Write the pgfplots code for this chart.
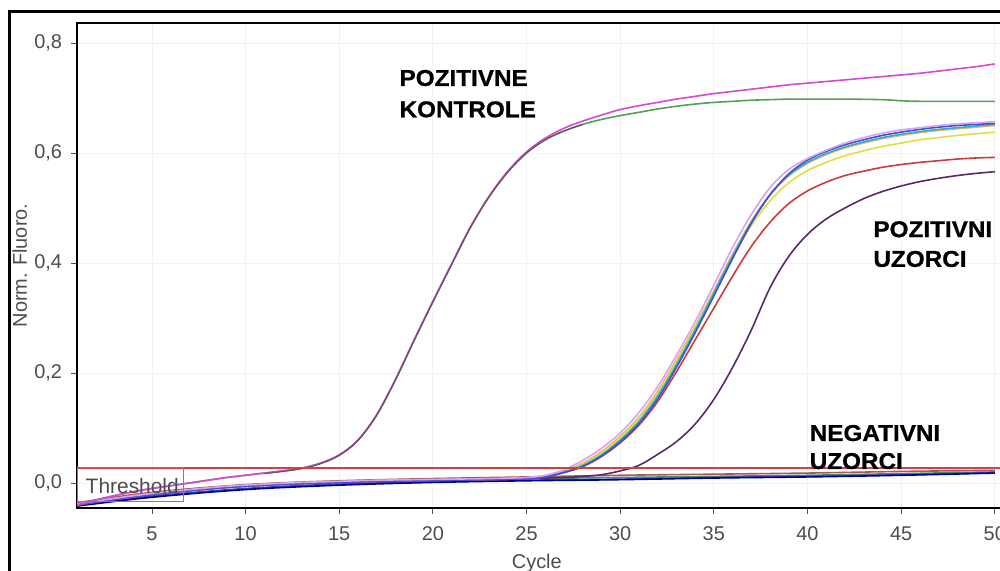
\documentclass[border=0pt]{standalone}
\usepackage{pgfplots}
\pgfplotsset{compat=1.18}
\usepackage{fontspec}
\setmainfont{Liberation Sans}
\newfontfamily\heavyfont{Liberation Sans Bold}[FakeBold=0.8]

\definecolor{ctlmag}{RGB}{214,72,214}
\definecolor{ctlgreen}{RGB}{84,160,84}
\definecolor{ctldark}{RGB}{110,80,100}
\definecolor{lav}{RGB}{222,160,240}
\definecolor{orng}{RGB}{240,176,112}
\definecolor{yel}{RGB}{222,222,64}
\definecolor{cyn}{RGB}{48,176,192}
\definecolor{blu}{RGB}{64,80,208}
\definecolor{redd}{RGB}{200,60,60}
\definecolor{purp}{RGB}{88,42,106}
\definecolor{thr}{RGB}{208,64,72}
\definecolor{tickgray}{RGB}{77,77,77}

\begin{document}
\begin{tikzpicture}
% page = the cropped screenshot, axis box origin at (0,0)
\useasboundingbox (-38.5bp,-31.5bp) rectangle (461.5bp,254bp);
\draw[line width=1.5bp] (-33.5bp,-60bp) -- (-33.5bp,248bp) -- (480bp,248bp);
\begin{axis}[
  scale only axis,
  width=468.25bp, height=242.5bp,
  xmin=1, xmax=51,
  ymin=-0.0455, ymax=0.8364,
  xtick={5,10,...,50},
  ytick={0,0.2,0.4,0.6,0.8},
  xtick pos=left, ytick pos=left,
  tick align=outside,
  major tick length=3bp,
  every tick/.style={tickgray},
  grid=major,
  major grid style={gray!10, line width=0.4bp},
  axis line style={line width=1.4bp},
  font=\fontsize{10}{12}\selectfont,
  tick label style={tickgray},
  /pgf/number format/assume math mode=true,
  xticklabel style={yshift=-3bp},
  yticklabel style={xshift=-1bp, /pgf/number format/fixed, /pgf/number format/fixed zerofill, /pgf/number format/precision=1, /pgf/number format/use comma},
  xlabel={Cycle},
  ylabel={Norm. Fluoro.},
  xlabel style={at={(axis description cs:0.491,-0.1134)}, anchor=center, tickgray},
  ylabel style={at={(axis description cs:-0.061,0.5)}, anchor=center, tickgray},
  every axis plot/.append style={line width=0.8bp, smooth, tension=0.55},
]
% negative samples
\addplot[color=ctlgreen!70!teal] coordinates {(1,-0.038)(5,-0.020)(10,-0.006)(15,0.001)(20,0.005)(25,0.008)(30,0.010)(35,0.012)(40,0.014)(45,0.017)(50,0.020)};
\addplot[color=blu!90!black] coordinates {(1,-0.041)(5,-0.024)(10,-0.010)(15,-0.002)(20,0.002)(25,0.005)(30,0.007)(35,0.010)(40,0.012)(45,0.015)(50,0.019)};
\addplot[color=blue!60!black] coordinates {(1,-0.042)(5,-0.026)(10,-0.012)(15,-0.004)(20,0.001)(25,0.004)(30,0.006)(35,0.009)(40,0.011)(45,0.014)(50,0.018)};
\addplot[color=redd!60!gray] coordinates {(1,-0.036)(5,-0.017)(10,-0.003)(15,0.004)(20,0.008)(25,0.011)(30,0.014)(35,0.016)(40,0.018)(45,0.021)(50,0.023)};
% positive samples
\addplot[color=orng] coordinates {(1,-0.039)(3,-0.029)(5,-0.020)(7,-0.013)(9,-0.007)(11,-0.003)(13,0.000)(15,0.002)(17,0.004)(19,0.005)(21,0.006)(23,0.007)(25,0.009)(26,0.013)(27,0.022)(28,0.036)(29,0.057)(30,0.085)(31,0.120)(32,0.167)(33,0.224)(34,0.285)(35,0.350)(36,0.416)(37,0.476)(38,0.524)(39,0.558)(40,0.581)(41,0.597)(42,0.609)(43,0.618)(44,0.626)(45,0.632)(46,0.637)(47,0.641)(48,0.644)(49,0.647)(50,0.650)};
\addplot[color=purp] coordinates {(1,-0.040)(3,-0.030)(5,-0.021)(7,-0.014)(9,-0.008)(11,-0.004)(13,-0.001)(15,0.001)(17,0.003)(19,0.004)(21,0.005)(23,0.006)(25,0.008)(27,0.010)(28,0.012)(29,0.015)(30,0.022)(31,0.032)(32,0.052)(33,0.075)(34,0.107)(35,0.152)(36,0.210)(37,0.278)(38,0.355)(39,0.412)(40,0.452)(41,0.480)(42,0.500)(43,0.517)(44,0.530)(45,0.540)(46,0.548)(47,0.554)(48,0.559)(49,0.563)(50,0.566)};
\addplot[color=redd] coordinates {(1,-0.040)(3,-0.030)(5,-0.021)(7,-0.014)(9,-0.008)(11,-0.004)(13,-0.001)(15,0.001)(17,0.003)(19,0.004)(21,0.005)(23,0.006)(25,0.008)(26,0.011)(27,0.019)(28,0.030)(29,0.048)(30,0.073)(31,0.105)(32,0.148)(33,0.202)(34,0.260)(35,0.318)(36,0.376)(37,0.430)(38,0.474)(39,0.508)(40,0.531)(41,0.547)(42,0.559)(43,0.567)(44,0.574)(45,0.579)(46,0.583)(47,0.586)(48,0.589)(49,0.591)(50,0.592)};
\addplot[color=yel] coordinates {(1,-0.039)(3,-0.029)(5,-0.020)(7,-0.013)(9,-0.007)(11,-0.003)(13,0.000)(15,0.002)(17,0.004)(19,0.005)(21,0.006)(23,0.007)(25,0.009)(26,0.013)(27,0.021)(28,0.034)(29,0.054)(30,0.082)(31,0.117)(32,0.163)(33,0.220)(34,0.282)(35,0.347)(36,0.410)(37,0.468)(38,0.513)(39,0.546)(40,0.568)(41,0.583)(42,0.595)(43,0.604)(44,0.612)(45,0.618)(46,0.624)(47,0.628)(48,0.632)(49,0.635)(50,0.638)};
\addplot[color=cyn] coordinates {(1,-0.039)(3,-0.029)(5,-0.020)(7,-0.013)(9,-0.007)(11,-0.003)(13,0.000)(15,0.002)(17,0.004)(19,0.005)(21,0.006)(23,0.007)(25,0.009)(26,0.012)(27,0.020)(28,0.032)(29,0.051)(30,0.078)(31,0.112)(32,0.158)(33,0.215)(34,0.278)(35,0.345)(36,0.412)(37,0.474)(38,0.524)(39,0.560)(40,0.583)(41,0.599)(42,0.611)(43,0.620)(44,0.628)(45,0.634)(46,0.639)(47,0.643)(48,0.646)(49,0.649)(50,0.652)};
\addplot[color=blu] coordinates {(1,-0.040)(3,-0.030)(5,-0.021)(7,-0.014)(9,-0.008)(11,-0.004)(13,-0.001)(15,0.001)(17,0.003)(19,0.004)(21,0.005)(23,0.006)(25,0.008)(26,0.011)(27,0.019)(28,0.030)(29,0.049)(30,0.075)(31,0.108)(32,0.153)(33,0.210)(34,0.273)(35,0.340)(36,0.408)(37,0.472)(38,0.524)(39,0.562)(40,0.587)(41,0.603)(42,0.615)(43,0.624)(44,0.632)(45,0.638)(46,0.643)(47,0.647)(48,0.650)(49,0.652)(50,0.654)};
\addplot[color=lav] coordinates {(1,-0.038)(3,-0.028)(5,-0.019)(7,-0.012)(9,-0.006)(11,-0.002)(13,0.001)(15,0.003)(17,0.005)(19,0.006)(21,0.007)(23,0.008)(25,0.010)(26,0.014)(27,0.024)(28,0.041)(29,0.063)(30,0.091)(31,0.128)(32,0.175)(33,0.232)(34,0.293)(35,0.360)(36,0.428)(37,0.488)(38,0.537)(39,0.570)(40,0.590)(41,0.605)(42,0.618)(43,0.628)(44,0.636)(45,0.642)(46,0.646)(47,0.650)(48,0.653)(49,0.655)(50,0.657)};
% positive controls
\addplot[color=ctlgreen] coordinates {(1,-0.040)(2,-0.031)(3,-0.023)(4,-0.016)(5,-0.010)(6,-0.005)(7,0.000)(8,0.005)(9,0.010)(10,0.014)(11,0.018)(12,0.022)(13,0.027)(14,0.036)(15,0.051)(16,0.078)(17,0.124)(18,0.188)(19,0.260)(20,0.330)(21,0.398)(22,0.465)(23,0.521)(24,0.566)(25,0.600)(26,0.624)(27,0.640)(28,0.652)(29,0.661)(30,0.668)(31,0.674)(32,0.680)(33,0.685)(34,0.689)(35,0.692)(36,0.694)(37,0.696)(38,0.697)(39,0.698)(40,0.698)(42,0.698)(44,0.697)(45,0.695)(46,0.694)(48,0.694)(50,0.694)};
\addplot[color=ctlmag] coordinates {(1,-0.040)(2,-0.031)(3,-0.023)(4,-0.016)(5,-0.010)(6,-0.005)(7,0.000)(8,0.005)(9,0.010)(10,0.014)(11,0.018)(12,0.022)(13,0.027)(14,0.036)(15,0.051)(16,0.078)(17,0.124)(18,0.188)(19,0.260)(20,0.330)(21,0.398)(22,0.465)(23,0.521)(24,0.567)(25,0.602)(26,0.627)(27,0.645)(28,0.658)(29,0.669)(30,0.679)(31,0.686)(32,0.692)(33,0.698)(34,0.703)(35,0.708)(36,0.712)(37,0.716)(38,0.720)(39,0.724)(40,0.727)(41,0.730)(42,0.733)(43,0.736)(44,0.739)(45,0.742)(46,0.745)(47,0.749)(48,0.753)(49,0.757)(50,0.762)};
\addplot[color=ctldark, line width=0.6bp] coordinates {(11,0.017)(12,0.021)(13,0.026)(14,0.035)(15,0.050)(16,0.077)(17,0.123)(18,0.187)(19,0.259)(20,0.329)(21,0.397)(22,0.464)(23,0.520)(24,0.565)(25,0.600)(26,0.624)(27,0.640)(28,0.652)};
% threshold
\addplot[color=thr, line width=1bp, sharp plot] coordinates {(1,0.028)(51,0.028)};
\draw[gray, line width=0.5bp] (axis cs:1,0.028) rectangle (axis cs:6.66,-0.0345);
\node[tickgray, font=\fontsize{10.5}{12}\selectfont] at (axis cs:3.95,-0.006) {Threshold};
% annotations
\begin{scope}[every node/.style={font=\heavyfont\fontsize{11.5}{13}\selectfont, inner sep=0pt, anchor=base west, xscale=1.06, transform shape}]
\node at (axis cs:18.2,0.722) {POZITIVNE};
\node at (axis cs:18.2,0.665) {KONTROLE};
\node at (axis cs:43.5,0.447) {POZITIVNI};
\node at (axis cs:43.5,0.393) {UZORCI};
\node at (axis cs:40.1,0.0764) {NEGATIVNI};
\node at (axis cs:40.1,0.0255) {UZORCI};
\end{scope}
\end{axis}
\end{tikzpicture}
\end{document}
